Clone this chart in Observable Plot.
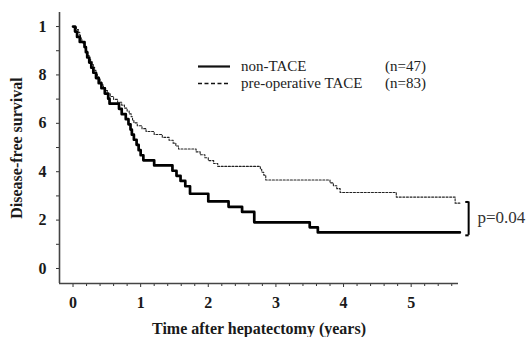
<!DOCTYPE html>
<html>
<head>
<meta charset="utf-8">
<script src="https://cdn.jsdelivr.net/npm/d3@7"></script>
<script src="https://cdn.jsdelivr.net/npm/@observablehq/plot@0.6"></script>
<style>
  html, body { margin: 0; padding: 0; background: #fff; }
  #wrap { position: relative; width: 528px; height: 337px; overflow: hidden; background: #fff; }
  #legend { position: absolute; left: 198px; top: 58px; font-family: "Liberation Serif", "DejaVu Serif", serif; font-size: 15px; color: #222; }
  .row { position: relative; height: 17px; width: 300px; }
  .row svg { position: absolute; left: 0; top: 0; }
  .row .name { position: absolute; left: 43px; top: 0; line-height: 17px; white-space: nowrap; }
  .row .n { position: absolute; left: 187px; top: 0; line-height: 17px; white-space: nowrap; }
  #wrap svg text { font-family: "Liberation Serif", "DejaVu Serif", serif; }
</style>
</head>
<body>
<div id="wrap"></div>
<script>
// ---- data ----
const seriesNames = ["non-TACE", "pre-operative TACE"];
const seriesN = ["(n=47)", "(n=83)"];

// non-TACE Kaplan–Meier steps (time in years, survival after the step)
const solidT = [0, 0.03, 0.06, 0.10, 0.17, 0.19, 0.21, 0.24, 0.27, 0.30, 0.34, 0.38, 0.42, 0.47, 0.52, 0.54, 0.68, 0.72, 0.78, 0.82, 0.85, 0.87, 0.90, 0.94, 0.97, 1.00, 1.04, 1.20, 1.47, 1.53, 1.59, 1.66, 1.73, 2.00, 2.30, 2.50, 2.68, 3.50, 3.62, 5.72];
const solidS = [1, .979, .957, .936, .915, .894, .872, .851, .830, .809, .787, .766, .745, .723, .702, .681, .660, .638, .617, .596, .574, .553, .532, .511, .489, .468, .447, .426, .404, .383, .362, .340, .309, .277, .255, .234, .191, .170, .149, .149];

// pre-operative TACE steps
const dashT = [0, 0.05, 0.08, 0.10, 0.11, 0.13, 0.15, 0.17, 0.19, 0.20, 0.22, 0.24, 0.26, 0.28, 0.30, 0.32, 0.34, 0.36, 0.38, 0.40, 0.42, 0.45, 0.48, 0.51, 0.55, 0.60, 0.66, 0.72, 0.76, 0.80, 0.83, 0.86, 0.88, 0.90, 0.95, 1.02, 1.08, 1.20, 1.32, 1.42, 1.48, 1.52, 1.56, 1.82, 1.88, 1.95, 2.00, 2.08, 2.14, 2.77, 2.79, 2.82, 2.85, 3.80, 3.85, 3.90, 3.95, 4.78, 5.65, 5.72];
const dashS = [1, .988, .976, .964, .952, .940, .928, .916, .904, .892, .880, .867, .855, .843, .831, .819, .807, .795, .783, .771, .759, .747, .735, .723, .711, .699, .687, .675, .663, .651, .639, .627, .614, .602, .590, .578, .566, .554, .542, .530, .518, .506, .494, .482, .470, .458, .446, .434, .422, .410, .398, .386, .366, .354, .342, .330, .314, .295, .270, .270];

// axes
const xDomain = [-0.2, 5.7];
const yDomain = [-0.062, 1.058];
const xMajor = [0, 1, 2, 3, 4, 5];
const xMajorLabels = ["0", "1", "2", "3", "4", "5"];
const xMinor = [0.2, 0.4, 0.6, 0.8, 1.2, 1.4, 1.6, 1.8, 2.2, 2.4, 2.6, 2.8, 3.2, 3.4, 3.6, 3.8, 4.2, 4.4, 4.6, 4.8, 5.2, 5.4, 5.6];
const yMajor = [0, 0.2, 0.4, 0.6, 0.8, 1];
const yMajorLabels = ["0", "2", "4", "6", "8", "1"];
const yMinor = [0.1, 0.3, 0.5, 0.7, 0.9];
const xTitle = "Time after hepatectomy (years)";
const yTitle = "Disease-free survival";

// p-value annotation
const pLabel = "p=0.04";
const pBracketX = 5.85;
const pBracketCapX = 5.80;
const pBracketTop = 0.275;
const pBracketBottom = 0.137;
const pTextX = 5.98;
const pTextY = 0.212;

// ---- build ----
const serif = '"Liberation Serif", "DejaVu Serif", serif';
const solid = solidT.map((t, i) => ({t, s: solidS[i]}));
const dashed = dashT.map((t, i) => ({t, s: dashS[i]}));
const caps = [pBracketTop, pBracketBottom].map(y => ({x1: pBracketCapX, x2: pBracketX, y}));

const chart = Plot.plot({
  width: 528,
  height: 337,
  marginLeft: 59,
  marginRight: 70,
  marginTop: 12,
  marginBottom: 54,
  x: {domain: xDomain, axis: null},
  y: {domain: yDomain, axis: null},
  style: {fontFamily: serif, fontWeight: "bold", color: "#1a1a1a", background: "#fff", overflow: "visible"},
  marks: [
    Plot.axisX(xMajor, {anchor: "bottom", tickSize: 4, tickPadding: 9, fontSize: 16, fontFamily: serif, tickFormat: d => xMajorLabels[xMajor.indexOf(d)], label: xTitle, labelArrow: "none", labelAnchor: "center", labelOffset: 50, stroke: "#333"}),
    Plot.axisX(xMinor, {anchor: "bottom", tickSize: 3, tickFormat: () => "", label: null, stroke: "#333"}),
    Plot.axisY(yMajor, {anchor: "left", tickSize: 3, tickPadding: 10, fontSize: 16, fontFamily: serif, tickFormat: d => yMajorLabels[yMajor.indexOf(d)], label: yTitle, labelArrow: "none", labelAnchor: "center", labelOffset: 49, stroke: "#333"}),
    Plot.axisY(yMinor, {anchor: "left", tickSize: 3, tickFormat: () => "", label: null, stroke: "#333"}),
    Plot.ruleY([yDomain[0]], {stroke: "#444", strokeWidth: 1.6}),
    Plot.ruleX([xDomain[0]], {stroke: "#444", strokeWidth: 1.6}),
    Plot.line(dashed, {x: "t", y: "s", curve: "step-after", stroke: "#222", strokeWidth: 1.1, strokeDasharray: "2,1.6"}),
    Plot.line(solid, {x: "t", y: "s", curve: "step-after", stroke: "#000", strokeWidth: 2.7}),
    Plot.ruleX([pBracketX], {y1: pBracketBottom, y2: pBracketTop, stroke: "#000", strokeWidth: 2}),
    Plot.link(caps, {x1: "x1", x2: "x2", y1: "y", y2: "y", stroke: "#000", strokeWidth: 2}),
    Plot.text([pLabel], {x: pTextX, y: pTextY, text: d => d, textAnchor: "start", fontSize: 17, fontWeight: "normal", fontFamily: serif, fill: "#333"})
  ]
});

const wrap = document.getElementById("wrap");
wrap.appendChild(chart);

// legend (inside the plot area, top right)
const legend = document.createElement("div");
legend.id = "legend";
const dashes = [null, "4,2.5"];
const widths = [2.2, 1.3];
seriesNames.forEach((name, i) => {
  const row = document.createElement("div");
  row.className = "row";
  row.innerHTML = `<svg width="34" height="17"><line x1="0" x2="32" y1="8.5" y2="8.5" stroke="#111" stroke-width="${widths[i]}" ${dashes[i] ? `stroke-dasharray="${dashes[i]}"` : ""}/></svg>` +
    `<span class="name">${name}</span><span class="n">${seriesN[i]}</span>`;
  legend.appendChild(row);
});
wrap.appendChild(legend);
</script>
</body>
</html>
